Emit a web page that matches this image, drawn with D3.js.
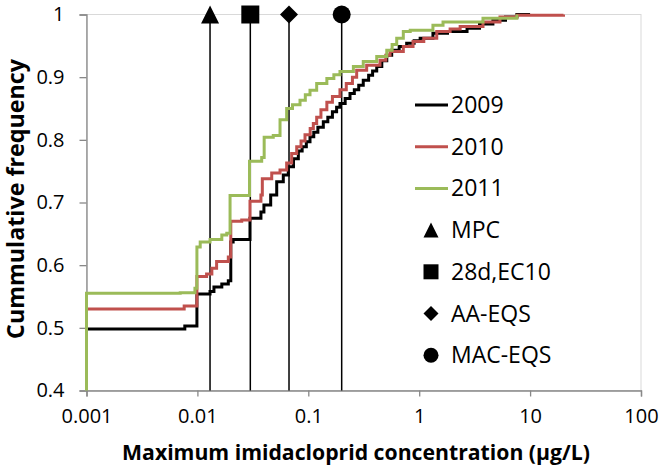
<!DOCTYPE html>
<html><head><meta charset="utf-8">
<script src="https://cdn.jsdelivr.net/npm/d3@7"></script>
<style>body{margin:0;background:#fff}svg{display:block}text{font-family:"Open Sans",sans-serif;fill:#000}</style>
</head><body><svg id="c" width="664" height="474"></svg>
<script>
// ---- data ----
const xTicks = [0.001, 0.01, 0.1, 1, 10, 100];
const xTickLabels = ["0.001", "0.01", "0.1", "1", "10", "100"];
const yTicks = [0.4, 0.5, 0.6, 0.7, 0.8, 0.9, 1];
const yTickLabels = ["0.4", "0.5", "0.6", "0.7", "0.8", "0.9", "1"];

const conc2009 = [0.001,0.0077,0.0099,0.0130,0.0141,0.0166,0.019,0.020,0.021,0.0298,0.0374,0.0398,0.0458,0.0519,0.0595,0.066,0.0735,0.0813,0.088,0.096,0.1036,0.112,0.122,0.1366,0.15,0.165,0.18,0.193,0.215,0.2377,0.26,0.285,0.313,0.35,0.38,0.414,0.46,0.51,0.565,0.66,0.771,0.9,1.02,1.33,1.8,2.7,3.5,4.62,6,7.6,10];
const freq2009 = [0.498,0.503,0.554,0.558,0.565,0.570,0.575,0.637,0.641,0.675,0.685,0.696,0.712,0.733,0.744,0.757,0.770,0.782,0.789,0.797,0.805,0.812,0.820,0.829,0.836,0.845,0.852,0.858,0.866,0.874,0.880,0.887,0.895,0.903,0.910,0.917,0.926,0.935,0.943,0.949,0.954,0.958,0.962,0.970,0.973,0.978,0.985,0.991,0.996,1.0,1.0];

const conc2010 = [0.001,0.0076,0.0099,0.0121,0.0135,0.0149,0.019,0.020,0.0251,0.0298,0.0374,0.0385,0.0468,0.0556,0.0638,0.0708,0.0786,0.086,0.0934,0.104,0.111,0.119,0.13,0.147,0.165,0.193,0.22,0.25,0.273,0.336,0.443,0.5,0.546,0.719,0.88,1.1,1.44,1.9,2.34,3.76,5.35,7.6,20];
const freq2010 = [0.530,0.535,0.582,0.586,0.595,0.606,0.613,0.670,0.672,0.702,0.712,0.738,0.747,0.752,0.763,0.778,0.789,0.798,0.808,0.818,0.826,0.836,0.848,0.860,0.869,0.880,0.890,0.900,0.911,0.919,0.927,0.935,0.941,0.949,0.957,0.962,0.973,0.977,0.981,0.988,0.996,0.999,1.0];

const conc2011 = [0.001,0.001,0.0070,0.0095,0.0099,0.0106,0.0130,0.0166,0.0184,0.0197,0.0295,0.038,0.040,0.0483,0.0556,0.0638,0.072,0.0842,0.094,0.1036,0.119,0.147,0.17,0.193,0.255,0.313,0.414,0.51,0.57,0.627,0.719,0.83,1.33,1.64,3.76,7.6];
const freq2011 = [0.400,0.555,0.556,0.563,0.629,0.637,0.641,0.648,0.651,0.711,0.766,0.772,0.804,0.807,0.832,0.850,0.856,0.863,0.872,0.879,0.890,0.898,0.904,0.909,0.917,0.925,0.933,0.943,0.952,0.962,0.973,0.975,0.983,0.988,0.994,1.0];

const seriesNames = ["2009", "2010", "2011"];
const seriesColors = ["#000000", "#c0504d", "#9bbb59"];

const thresholdNames = ["MPC", "28d,EC10", "AA-EQS", "MAC-EQS"];
const thresholdValues = [0.013, 0.03, 0.067, 0.2];

// custom symbols: size = extent^2
const symTri = { draw(ctx, size) { const s = Math.sqrt(size); ctx.moveTo(0, -s / 2); ctx.lineTo(s / 2, s / 2); ctx.lineTo(-s / 2, s / 2); ctx.closePath(); } };
const symSq = { draw(ctx, size) { const s = Math.sqrt(size); ctx.rect(-s / 2, -s / 2, s, s); } };
const symDia = { draw(ctx, size) { const s = Math.sqrt(size); ctx.moveTo(0, -s / 2); ctx.lineTo(s / 2, 0); ctx.lineTo(0, s / 2); ctx.lineTo(-s / 2, 0); ctx.closePath(); } };
const symCirc = { draw(ctx, size) { const s = Math.sqrt(size); ctx.moveTo(s / 2, 0); ctx.arc(0, 0, s / 2, 0, 2 * Math.PI); } };
const thresholdSymbols = [symTri, symSq, symDia, symCirc];

// ---- layout ----
const svg = d3.select("#c");
const L = 86.5, R = 641, T = 14.5, B = 390.5;
const x = d3.scaleLog().domain([0.001, 100]).range([L, R]);
const y = d3.scaleLinear().domain([0.4, 1]).range([B, T]);

svg.append("rect").attr("x", L).attr("y", T).attr("width", R - L).attr("height", B - T)
  .attr("fill", "none").attr("stroke", "#d9d9d9").attr("stroke-width", 1);

const axisCol = "#888888";
const gx = svg.append("g").attr("transform", `translate(0,${B})`)
  .call(d3.axisBottom(x).tickValues(xTicks).tickFormat((d, i) => xTickLabels[i]).tickSize(6).tickPadding(12));
const gy = svg.append("g").attr("transform", `translate(${L},0)`)
  .call(d3.axisLeft(y).tickValues(yTicks).tickFormat((d, i) => yTickLabels[i]).tickSize(7).tickPadding(15));
[gx, gy].forEach(g => {
  g.select(".domain").attr("stroke", axisCol).attr("stroke-width", 1.3);
  g.selectAll(".tick line").attr("stroke", axisCol).attr("stroke-width", 1.3);
  g.selectAll(".tick text").style("font-size", "20px").attr("fill", "#222");
});

// threshold lines
thresholdValues.forEach(v => {
  svg.append("line").attr("x1", x(v)).attr("x2", x(v)).attr("y1", B).attr("y2", y(1))
    .attr("stroke", "#000").attr("stroke-width", 1.5);
});

// curves
const line = d3.line().x(d => x(d[0])).y(d => y(d[1])).curve(d3.curveStepAfter);
const seriesData = [d3.zip(conc2009, freq2009), d3.zip(conc2010, freq2010), d3.zip(conc2011, freq2011)];
seriesData.forEach((data, i) => {
  svg.append("path").datum(data).attr("d", line).attr("fill", "none")
    .attr("stroke", seriesColors[i]).attr("stroke-width", 3);
});

// threshold markers
thresholdValues.forEach((v, i) => {
  svg.append("path").attr("d", d3.symbol().type(thresholdSymbols[i]).size(18 * 18)())
    .attr("transform", `translate(${x(v)},${y(1)})`).attr("fill", "#000");
});

// legend
const legX = 415, legY0 = 105, legStep = 41.7;
seriesNames.forEach((n, i) => {
  const yy = legY0 + i * legStep;
  svg.append("line").attr("x1", legX).attr("x2", legX + 33).attr("y1", yy).attr("y2", yy)
    .attr("stroke", seriesColors[i]).attr("stroke-width", 3);
  svg.append("text").attr("x", legX + 36).attr("y", yy).attr("dy", "0.35em").style("font-size", "23px").text(n);
});
thresholdNames.forEach((n, i) => {
  const yy = legY0 + (i + 3) * legStep;
  svg.append("path").attr("d", d3.symbol().type(thresholdSymbols[i]).size(15 * 15)())
    .attr("transform", `translate(${legX + 16},${yy})`).attr("fill", "#000");
  svg.append("text").attr("x", legX + 36).attr("y", yy).attr("dy", "0.35em").style("font-size", "23px").text(n);
});

// axis titles, fitted to the reference widths
function fit(t, target) {
  let fs = 20;
  t.style("font-size", fs + "px");
  const w = t.node().getComputedTextLength();
  fs = fs * target / w;
  t.style("font-size", fs.toFixed(2) + "px");
}
const xt = svg.append("text").attr("x", 356).attr("y", 453).attr("dy", "0.35em").attr("text-anchor", "middle")
  .style("font-weight", "bold").text("Maximum imidacloprid concentration (µg/L)");
fit(xt, 468);
const yt = svg.append("text").attr("transform", "translate(16,199) rotate(-90)").attr("dy", "0.35em").attr("text-anchor", "middle")
  .style("font-weight", "bold").text("Cummulative frequency");
fit(yt, 280);
</script></body></html>
